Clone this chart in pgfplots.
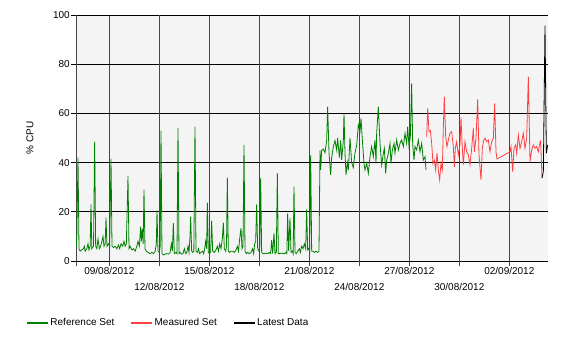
\documentclass[border=0pt]{standalone}
\usepackage{pgfplots}
\pgfplotsset{compat=1.18}
\usepackage{fontspec}
\setmainfont{Liberation Sans}
\definecolor{bgc}{RGB}{244,244,244}
\definecolor{refg}{RGB}{0,128,0}
\definecolor{measr}{RGB}{255,64,64}
\definecolor{vgrid}{RGB}{70,70,70}
\begin{document}
\begin{tikzpicture}
\path[use as bounding box] (0,0) rectangle (567bp,352bp);
\begin{axis}[
  at={(76bp,91bp)}, anchor=south west,
  scale only axis, width=472bp, height=246bp,
  xmin=0, xmax=28.32, ymin=0, ymax=100,
  axis background/.style={fill=bgc},
  axis x line*=bottom, axis y line*=left,
  x axis line style={-, black, line width=0.8bp},
  y axis line style={-, vgrid, line width=1bp},
  tick align=outside, major tick length=5bp,
  xtick={0,2,8,14,20,26},
  xticklabels={,09/08/2012,15/08/2012,21/08/2012,27/08/2012,02/09/2012},
  extra x ticks={5,11,17,23},
  extra x tick labels={12/08/2012,18/08/2012,24/08/2012,30/08/2012},
  extra x tick style={grid=major, xticklabel style={yshift=-16bp}},
  ytick={0,20,40,60,80,100},
  xmajorgrids, ymajorgrids,
  x grid style={vgrid, line width=1bp},
  y grid style={black, line width=0.8bp},
  x tick style={vgrid, line width=1bp},
  y tick style={black, line width=0.8bp},
  /pgf/number format/assume math mode=true,
  ticklabel style={font=\fontsize{10bp}{12bp}\selectfont},
  xticklabel style={inner sep=1bp},
  yticklabel style={inner sep=1bp},
  ylabel={\% CPU},
  ylabel style={at={(axis description cs:-0.0975,0.5)}, anchor=center, font=\fontsize{10bp}{12bp}\selectfont},
  legend columns=3,
  legend style={at={(axis description cs:-0.106,-0.252)}, anchor=west, draw=none, fill=none, inner sep=0pt,
    font=\fontsize{10bp}{12bp}\selectfont,
    /tikz/every even column/.append style={column sep=14bp}},
  legend image code/.code={\draw[#1,line width=1.3bp] (0bp,0bp) -- (21bp,0bp);},
  every axis plot/.append style={line width=0.8bp},
]
\addplot[refg] coordinates {
(0.00,5) (0.05,10) (0.12,42) (0.18,5) (0.25,4) (0.35,4.5) (0.45,5) (0.5,6) (0.55,4) (0.65,5) (0.72,7) (0.78,4.5) (0.85,6) (0.9,23) (0.95,5) (1.05,6) (1.12,48.5) (1.18,6) (1.25,5) (1.32,9) (1.4,5) (1.48,6) (1.55,8) (1.62,10) (1.68,6) (1.75,7) (1.8,17.6) (1.86,6) (1.95,7) (2.02,6) (2.1,41.5) (2.16,6)
(2.25,5.5) (2.35,6) (2.45,5) (2.55,6.5) (2.62,5) (2.7,7) (2.8,6) (2.88,8) (2.95,6) (3.02,7) (3.12,34.5) (3.18,5) (3.25,6) (3.35,4.5) (3.45,5) (3.55,4) (3.65,6) (3.72,8) (3.8,6) (3.88,14) (3.92,8) (3.98,13) (4.03,7) (4.08,29) (4.14,5) (4.22,4) (4.32,3.5) (4.45,3) (4.55,3.5) (4.65,3) (4.75,4) (4.82,7) (4.86,20.5) (4.92,4)
(5.0,3.5) (5.05,6) (5.1,53) (5.16,3) (5.25,2.5) (5.35,2.8) (5.45,3) (5.55,2.8) (5.65,3.5) (5.72,7) (5.78,4) (5.84,15.4) (5.9,3) (6.0,3.5) (6.06,3) (6.12,54) (6.18,3) (6.25,3.5) (6.32,2.8) (6.42,3) (6.5,5) (6.58,3) (6.65,3.5) (6.72,6) (6.78,3.5) (6.84,10) (6.88,18) (6.94,4) (7.0,3.5) (7.07,4) (7.14,54.6) (7.2,4)
(7.28,3.5) (7.35,5) (7.42,3) (7.5,3.5) (7.6,4) (7.66,3) (7.72,5) (7.78,8) (7.84,5) (7.88,23.7) (7.94,3.5) (8.02,3) (8.08,4) (8.14,16.4) (8.2,4) (8.3,3.5) (8.4,4.5) (8.48,6) (8.55,4) (8.62,7) (8.7,5) (8.78,9) (8.84,15.6) (8.9,5) (8.98,4) (9.03,6) (9.08,33.9) (9.14,4) (9.22,3.5) (9.3,4) (9.4,4) (9.5,3.5) (9.6,4.5) (9.68,6) (9.75,4) (9.82,9) (9.9,13.4) (9.96,5)
(10.02,6) (10.08,47.2) (10.14,4) (10.22,3) (10.3,3.5) (10.4,3) (10.5,3.5) (10.6,5) (10.66,3) (10.72,7) (10.78,8) (10.84,23) (10.9,5) (10.98,4) (11.03,6) (11.08,33.7) (11.14,3.5) (11.22,3) (11.3,3) (11.4,3.2) (11.5,3) (11.6,3.5) (11.68,3) (11.74,8.5) (11.8,3) (11.88,11.3) (11.94,3) (12.02,3.5) (12.08,35.7) (12.14,3) (12.22,3) (12.32,3.2) (12.42,3) (12.52,3) (12.6,3.5) (12.65,3) (12.7,19.4) (12.76,4) (12.84,17.5) (12.9,3.5) (12.98,4)
(13.03,3) (13.08,30.2) (13.14,3.5) (13.22,3) (13.3,4) (13.4,5) (13.46,3.5) (13.54,6) (13.62,5) (13.7,7) (13.78,5) (13.84,21) (13.9,4.5) (13.96,5) (14.02,4) (14.08,43) (14.14,4) (14.2,4) (14.3,3.5) (14.4,4) (14.5,3.5) (14.58,4) (14.64,45)
(14.68,37) (14.74,45) (14.84,45.5) (14.94,44) (15.04,49) (15.1,62.7) (15.18,44) (15.28,35) (15.34,42) (15.44,46.5) (15.54,49) (15.64,45) (15.7,50) (15.8,42) (15.88,49) (15.94,41) (16.04,49) (16.08,60) (16.14,44) (16.2,35) (16.28,40) (16.34,37) (16.44,50) (16.54,40) (16.64,38) (16.74,44) (16.84,47)
(16.94,55.3) (17.04,52.6) (17.1,58) (17.18,49.2) (17.28,39.7) (17.34,37) (17.44,39.7) (17.54,35.6) (17.64,42.4) (17.74,46.5) (17.84,42.4) (17.94,49.2) (18.0,39.7) (18.04,51.9) (18.14,62.7) (18.24,47.8) (18.34,39) (18.44,43.8) (18.5,45.8) (18.58,35.6) (18.64,41) (18.74,43.8) (18.84,47.8) (18.9,39.7) (18.98,45.1) (19.08,47.8) (19.14,43.8) (19.24,49.2) (19.34,45.1) (19.44,47.8) (19.54,49.2) (19.64,46.5) (19.74,51.9) (19.84,47.8) (19.9,54.6) (19.98,46.5) (20.06,50.5) (20.14,72.2) (20.2,47.8) (20.28,41) (20.34,46.5) (20.44,45.1) (20.54,49.2) (20.64,44.4) (20.74,47.8) (20.84,41) (20.94,42.4) (21.0,37)
};
\addlegendentry{Reference Set}
\addplot[measr] coordinates {
(21.04,50.5) (21.1,62) (21.18,52.6) (21.26,53) (21.34,47.8) (21.42,39.7) (21.5,41) (21.58,37) (21.66,43.8) (21.74,37) (21.82,33) (21.9,39.7) (21.98,37) (22.04,54.6) (22.1,66.8) (22.18,50.5) (22.26,46.5) (22.34,49.2) (22.44,52) (22.54,52.6) (22.64,46.5) (22.7,38.3)
(22.76,45.8) (22.84,48.5) (22.94,43.1) (23.04,47.2) (23.1,58.3) (23.18,45.8) (23.24,39.2) (23.34,48.5) (23.44,44.4) (23.54,43.1) (23.64,39.2) (23.74,45.8) (23.84,53.9) (23.9,44.4) (24.0,49.9) (24.1,65.7) (24.18,43.1) (24.3,33) (24.38,45.8) (24.44,48.5) (24.54,49.9) (24.64,48.5) (24.74,49.2) (24.84,44.4) (24.94,48.5) (25.04,49.9) (25.12,64.1) (25.2,44.4) (25.26,41.5)
(26.04,44.4) (26.1,46.5) (26.2,36.3) (26.28,45.8) (26.38,47.2) (26.44,43.8) (26.54,51.2) (26.64,45.8) (26.74,48.5) (26.84,51.9) (26.94,45.8) (27.04,49.9) (27.14,74.9) (27.24,40.4) (27.34,45.1) (27.44,47.2) (27.54,45.8) (27.64,46.5) (27.74,44.4) (27.84,48.5) (27.88,48.8) (27.96,33.7)
};
\addlegendentry{Measured Set}
\addplot[black] coordinates {
(27.96,33.7) (28.04,36.3) (28.14,95.7) (28.22,43.8) (28.3,47.2)
};
\addlegendentry{Latest Data}
\end{axis}
\end{tikzpicture}
\end{document}
